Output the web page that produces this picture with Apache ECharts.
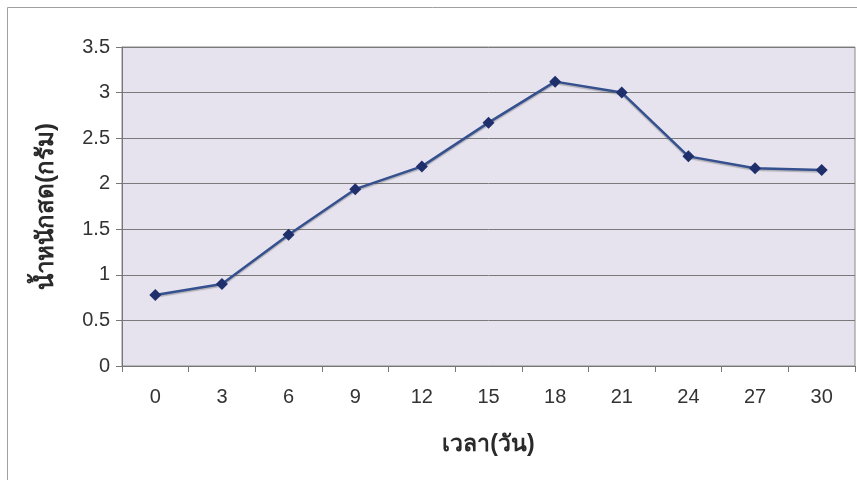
<!DOCTYPE html>
<html><head><meta charset="utf-8">
<script src="https://cdn.jsdelivr.net/npm/echarts@6/dist/echarts.min.js"></script>
<style>html,body{margin:0;padding:0;background:#fff}#c{width:857px;height:480px}</style>
</head><body><div id="c"></div>
<script>
const days = ['0','3','6','9','12','15','18','21','24','27','30'];
const weight = [0.78, 0.90, 1.44, 1.94, 2.19, 2.67, 3.12, 3.00, 2.30, 2.17, 2.15];
const yTitle = 'น้ำหนักสด(กรัม)';
const xTitle = 'เวลา(วัน)';

const chart = echarts.init(document.getElementById('c'), null, {renderer:'canvas'});
chart.setOption({
  animation:false,
  backgroundColor:'#ffffff',
  graphic:[{type:'rect',shape:{x:7.5,y:7.5,width:870,height:490},style:{fill:'none',stroke:'#a0a0a0',lineWidth:1},z:-10}],
  grid:{left:122,top:47,right:2,bottom:114,show:true,backgroundColor:'#e6e3ee',borderColor:'#8a8a8a',borderWidth:1},
  xAxis:{type:'category',data:days,boundaryGap:true,
    name:xTitle,nameLocation:'middle',nameGap:67,
    nameTextStyle:{fontSize:23,fontWeight:'bold',color:'#2a2a2a',fontFamily:'Liberation Sans, sans-serif'},
    axisLine:{lineStyle:{color:'#777',width:1}},
    axisTick:{show:true,length:6,lineStyle:{color:'#777'}},
    axisLabel:{fontSize:20,color:'#333',margin:21,fontFamily:'Liberation Sans, Arial, sans-serif'}},
  yAxis:{type:'value',min:0,max:3.5,interval:0.5,
    name:yTitle,nameLocation:'middle',nameGap:64,nameRotate:90,
    nameTextStyle:{fontSize:24,fontWeight:'bold',color:'#2a2a2a',fontFamily:'Liberation Sans, sans-serif'},
    axisLine:{show:true,lineStyle:{color:'#777',width:1}},
    axisTick:{show:true,length:6,lineStyle:{color:'#777'}},
    splitLine:{lineStyle:{color:'#7a7a7a',width:1}},
    axisLabel:{fontSize:20,color:'#333',margin:12,fontFamily:'Liberation Sans, Arial, sans-serif'}},
  series:[{type:'line',data:weight,symbol:'diamond',symbolSize:12,
    lineStyle:{color:'#34508f',width:2.5,shadowColor:'rgba(80,80,80,0.35)',shadowOffsetY:1.5,shadowBlur:1},
    itemStyle:{color:'#1e2f6b',borderWidth:0}}]
});
</script></body></html>
